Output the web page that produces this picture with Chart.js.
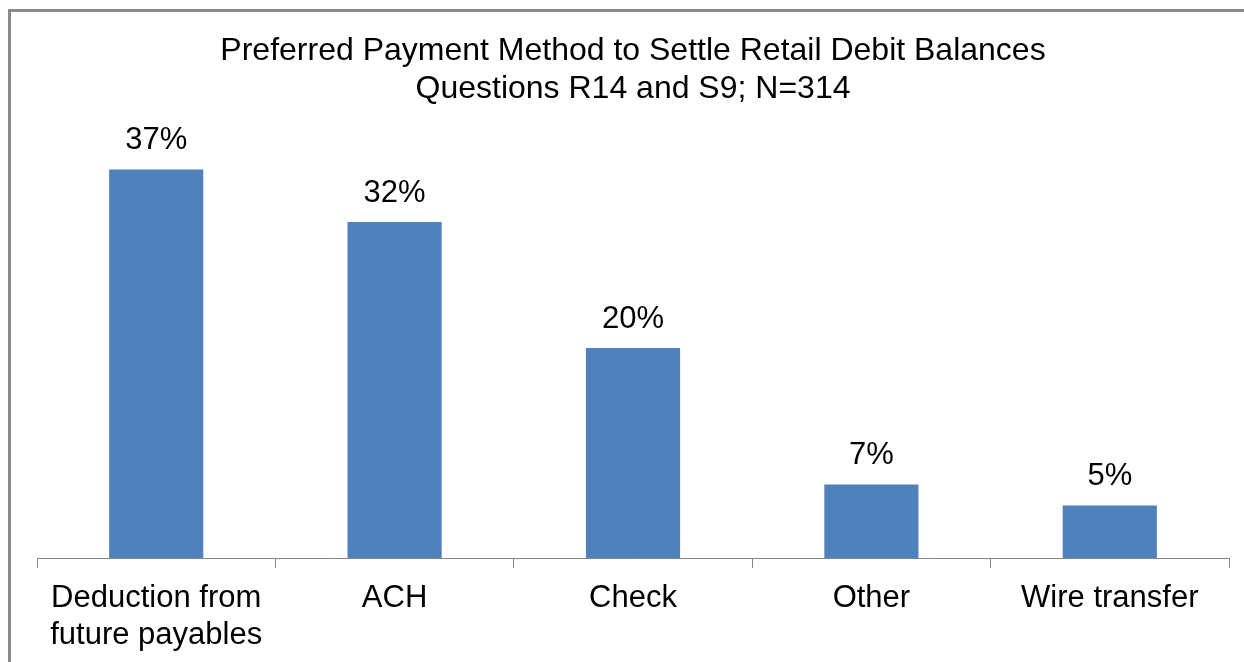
<!DOCTYPE html>
<html>
<head>
<meta charset="utf-8">
<script src="https://cdn.jsdelivr.net/npm/chart.js@4.4.1/dist/chart.umd.min.js"></script>
<style>
html,body{margin:0;padding:0;background:#fff;overflow:hidden;}
#wrap{position:absolute;left:0;top:0;width:1244px;height:662px;}
</style>
</head>
<body>
<div id="wrap"><canvas id="c" width="1244" height="662"></canvas></div>
<script>
const categories = [["Deduction from","future payables"], "ACH", "Check", "Other", "Wire transfer"];
const values = [37, 32, 20, 7, 5];
const valueLabels = ["37%", "32%", "20%", "7%", "5%"];
const titleLines = ["Preferred Payment Method to Settle Retail Debit Balances", "Questions R14 and S9; N=314"];

const FONT = "'Liberation Sans', Arial, sans-serif";

const frame = {
  id: 'frame',
  beforeDraw(chart) {
    const ctx = chart.ctx;
    ctx.save();
    ctx.fillStyle = '#fff';
    ctx.fillRect(0, 0, chart.width, chart.height);
    ctx.strokeStyle = '#8a8a8a';
    ctx.lineWidth = 3;
    ctx.strokeRect(9.5, 10.5, 1300, 700);
    ctx.restore();
  }
};

const labelsPlugin = {
  id: 'valLabels',
  afterDatasetsDraw(chart) {
    const ctx = chart.ctx;
    const meta = chart.getDatasetMeta(0);
    ctx.save();
    ctx.fillStyle = '#000';
    ctx.font = '31px ' + FONT;
    ctx.textAlign = 'center';
    ctx.textBaseline = 'alphabetic';
    meta.data.forEach((bar, i) => {
      ctx.fillText(valueLabels[i], bar.x, bar.y - 20);
    });
    ctx.restore();
  }
};

new Chart(document.getElementById('c'), {
  type: 'bar',
  data: {
    labels: categories,
    datasets: [{
      data: values,
      backgroundColor: '#4F81BD',
      borderWidth: 0,
      categoryPercentage: 1,
      barPercentage: 0.395
    }]
  },
  options: {
    responsive: false,
    animation: false,
    devicePixelRatio: 1,
    layout: { padding: { left: 37, right: 15, top: 10, bottom: 0 } },
    plugins: {
      legend: { display: false },
      tooltip: { enabled: false },
      title: {
        display: true,
        text: titleLines,
        color: '#000',
        font: { family: FONT, size: 32, weight: 'normal', lineHeight: 1.19 },
        padding: { top: 22, bottom: 29.8 }
      }
    },
    scales: {
      x: {
        offset: true,
        grid: { display: true, drawOnChartArea: false, offset: true, tickLength: 10, color: '#868686', lineWidth: 1 },
        border: { display: true, color: '#868686', width: 1 },
        ticks: { color: '#000', font: { family: FONT, size: 31, lineHeight: 1.194 }, padding: 12, maxRotation: 0, autoSkip: false },
        afterFit(scale) { scale.height = 104; }
      },
      y: {
        display: false,
        min: 0,
        max: 40
      }
    }
  },
  plugins: [frame, labelsPlugin]
});
</script>
</body>
</html>
